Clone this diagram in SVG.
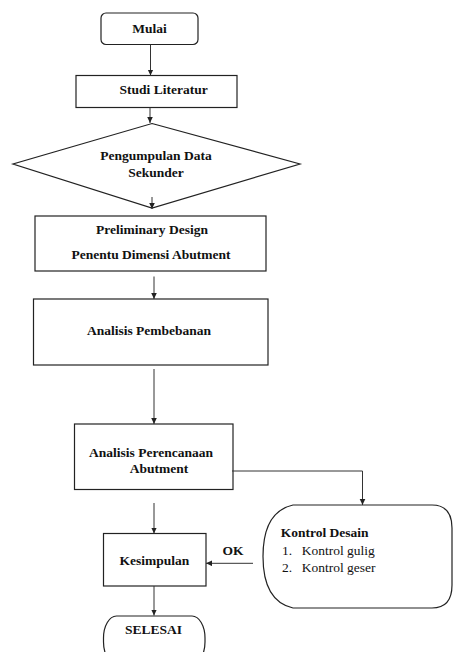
<svg xmlns="http://www.w3.org/2000/svg" width="454" height="652" viewBox="0 0 454 652">
<style>
.box{fill:#fff;stroke:#222;stroke-width:1.2}
.t{font-family:"Liberation Serif","Times New Roman","DejaVu Serif",serif;font-size:13.5px;font-weight:bold;fill:#111}
.r{font-family:"Liberation Serif","Times New Roman","DejaVu Serif",serif;font-size:13.5px;fill:#111}
.c{text-anchor:middle}
.ln{fill:none;stroke:#333;stroke-width:1;marker-end:url(#ah)}
</style>
<defs>
<marker id="ah" markerUnits="userSpaceOnUse" markerWidth="7" markerHeight="7" refX="6" refY="3" orient="auto">
<path d="M0,0.2 L6,3 L0,5.8 z" fill="#222"/>
</marker>
</defs>
<rect width="454" height="652" fill="#fff"/>
<g id="mulai">
<rect class="box" x="101" y="13" width="97" height="31.5" rx="5"/>
<text class="t c" x="149.5" y="32.5">Mulai</text>
</g>
<g id="studi">
<rect class="box" x="76" y="75.5" width="161" height="32"/>
<text class="t" x="119.5" y="93.5">Studi Literatur</text>
</g>
<g id="pengumpulan">
<polygon class="box" points="152,123.5 300,164 152,208 13,164"/>
<text class="t c" x="156" y="159.5">Pengumpulan Data</text>
<text class="t c" x="156" y="177">Sekunder</text>
</g>
<g id="preliminary">
<rect class="box" x="35" y="216" width="231" height="55"/>
<text class="t c" x="152" y="233.5">Preliminary Design</text>
<text class="t c" x="151" y="258.5">Penentu Dimensi Abutment</text>
</g>
<g id="pembebanan">
<rect class="box" x="33.5" y="299" width="234.5" height="66"/>
<text class="t c" x="149" y="334.5">Analisis Pembebanan</text>
</g>
<g id="perencanaan">
<rect class="box" x="74.5" y="424" width="158.5" height="65.5"/>
<text class="t c" x="151" y="456.7">Analisis Perencanaan</text>
<text class="t c" x="159" y="473.3">Abutment</text>
</g>
<g id="kontrol">
<path class="box" d="M293,505 H432 Q452,505 452,528 V585 Q452,608 432,608 H293 C271,603 263,584 263,556.5 C263,529 271,510 293,505 Z"/>
<text class="t" x="280.7" y="536.7">Kontrol Desain</text>
<text class="r" x="282" y="554.5">1.</text>
<text class="r" x="301.7" y="554.5">Kontrol gulig</text>
<text class="r" x="282" y="571.5">2.</text>
<text class="r" x="301.7" y="571.5">Kontrol geser</text>
</g>
<g id="kesimpulan">
<rect class="box" x="103.5" y="533.5" width="102.5" height="52.5"/>
<text class="t c" x="154.5" y="565">Kesimpulan</text>
</g>
<g id="selesai">
<rect class="box" x="103.5" y="616" width="101.5" height="48" rx="13" ry="22"/>
<text class="t c" x="153.5" y="634">SELESAI</text>
</g>
<g id="connectors">
<line class="ln" x1="150.5" y1="44.5" x2="150.5" y2="75.5"/>
<line class="ln" x1="150" y1="107.5" x2="150" y2="123"/>
<line class="ln" x1="152" y1="197" x2="152" y2="209"/>
<line class="ln" x1="154" y1="276.5" x2="154" y2="299"/>
<line class="ln" x1="154" y1="369" x2="154" y2="424"/>
<path class="ln" d="M232,471 H362.5 V505"/>
<line class="ln" x1="154" y1="503" x2="154" y2="533.5"/>
<line class="ln" x1="253" y1="563.3" x2="206" y2="563.3"/>
<line class="ln" x1="154" y1="586" x2="154" y2="615.5"/>
<text class="t c" x="233" y="555">OK</text>
</g>
</svg>
